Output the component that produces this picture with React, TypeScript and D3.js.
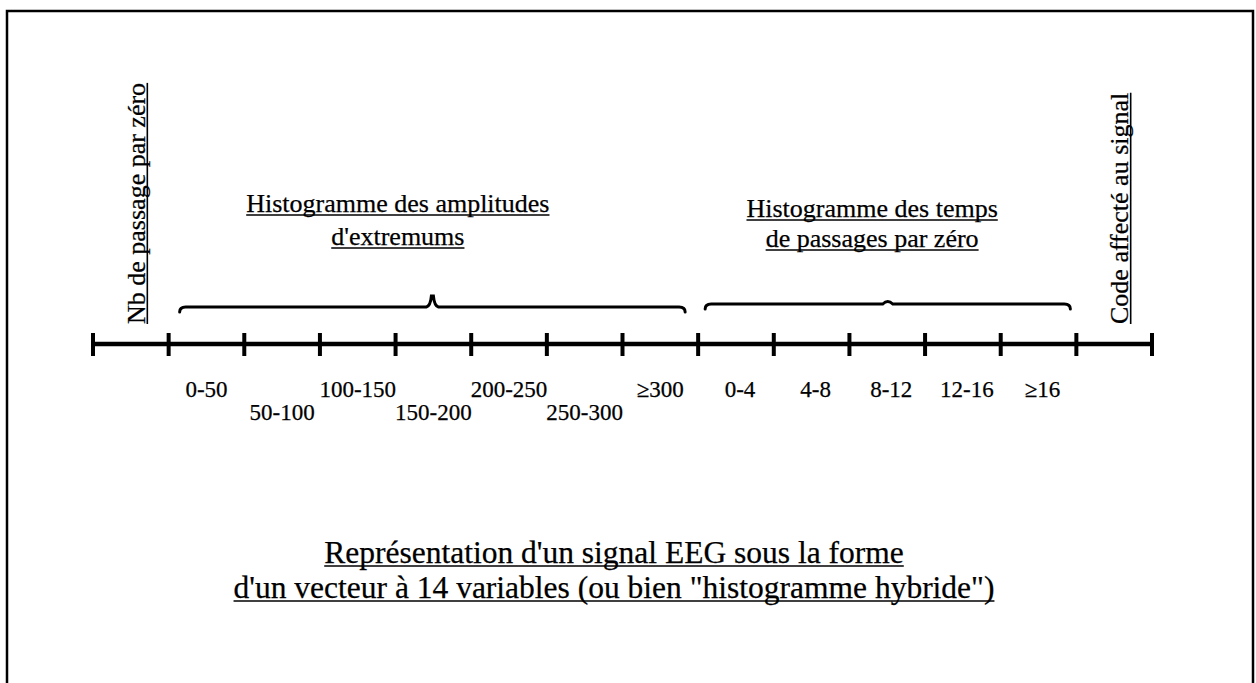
import React, { useRef, useEffect } from 'react'
import * as d3 from 'd3'

// 14 variables: 1 + 7 amplitude bins + 5 time bins + 1 code
const variableCount = 14
const amplitudeBins = ['0-50', '50-100', '100-150', '150-200', '200-250', '250-300', '≥300']
const timeBins = ['0-4', '4-8', '8-12', '12-16', '≥16']
const sideLabels = ['Nb de passage par zéro', 'Code affecté au signal']
const amplitudeTitle = ['Histogramme des amplitudes', "d'extremums"]
const timeTitle = ['Histogramme des temps', 'de passages par zéro']
const captionLines = [
  "Représentation d'un signal EEG sous la forme",
  "d'un vecteur à 14 variables (ou bien \"histogramme hybride\")",
]

const FONT = '"Liberation Serif", "Times New Roman", serif'

export default function App() {
  const svgRef = useRef<SVGSVGElement>(null)

  useEffect(() => {
    const svg = d3.select(svgRef.current)
    svg.selectAll('*').remove()

    const width = 1256, height = 683
    const axisY = 344

    svg.attr('width', width).attr('height', height)

    // page frame
    svg.append('rect')
      .attr('x', 7).attr('y', 11)
      .attr('width', 1246).attr('height', 700)
      .attr('fill', 'none').attr('stroke', '#000').attr('stroke-width', 2.5)

    const x = d3.scaleLinear().domain([0, variableCount]).range([93, 1152])

    // underlined text helper: draws text then a line under it using its bbox
    const underlined = (parent, str, size, anchor, ulGap = 3) => {
      const t = parent.append('text')
        .attr('x', 0).attr('y', 0)
        .attr('text-anchor', anchor)
        .attr('font-family', FONT).attr('font-size', size + 'px')
        .attr('fill', '#000')
        .attr('stroke', '#000').attr('stroke-width', 0.25)
        .text(str)
      const bb = (t.node() as SVGTextElement).getBBox()
      parent.append('line')
        .attr('x1', bb.x).attr('x2', bb.x + bb.width)
        .attr('y1', ulGap).attr('y2', ulGap)
        .attr('stroke', '#000').attr('stroke-width', 1.6)
    }

    // axis line
    svg.append('line')
      .attr('x1', x(0)).attr('x2', x(variableCount))
      .attr('y1', axisY).attr('y2', axisY)
      .attr('stroke', '#000').attr('stroke-width', 4.5)

    // ticks
    svg.selectAll('.tick')
      .data(d3.range(variableCount + 1))
      .join('line')
      .attr('class', 'tick')
      .attr('x1', d => x(d)).attr('x2', d => x(d))
      .attr('y1', axisY - 11).attr('y2', axisY + 12)
      .attr('stroke', '#000').attr('stroke-width', 4)

    // bin labels
    const rowY = [397, 420]
    const labelStyle = sel => sel
      .attr('text-anchor', 'middle')
      .attr('font-family', FONT).attr('font-size', '23px')
      .attr('fill', '#000')
      .attr('stroke', '#000').attr('stroke-width', 0.25)

    svg.selectAll('.amp')
      .data(amplitudeBins)
      .join('text')
      .attr('class', 'amp')
      .attr('x', (d, i) => x(1 + i + 0.5))
      .attr('y', (d, i) => rowY[i % 2])
      .call(labelStyle)
      .text(d => d)

    svg.selectAll('.time')
      .data(timeBins)
      .join('text')
      .attr('class', 'time')
      .attr('x', (d, i) => x(1 + amplitudeBins.length + i + 0.5) + 4)
      .attr('y', rowY[0])
      .call(labelStyle)
      .text(d => d)

    // vertical side labels (first and last variable)
    const sideIdx = [0, variableCount - 1]
    sideLabels.forEach((lab, k) => {
      const g = svg.append('g')
        .attr('transform', `translate(${x(sideIdx[k] + 0.5) + 14},${axisY - 20}) rotate(-90)`)
      underlined(g, lab, 26, 'start', 2.5)
    })

    // braces
    const brace = (x1, x2, y, tip, sharp) => {
      const xm = (x1 + x2) / 2
      const c = 5, r = 6, w = sharp ? 6 : 5
      const p = d3.path()
      p.moveTo(x1, y + c)
      p.quadraticCurveTo(x1, y, x1 + r, y)
      p.lineTo(xm - w, y)
      if (sharp) {
        p.quadraticCurveTo(xm - 2, y - 1, xm - 1, y - tip)
        p.lineTo(xm + 1, y - tip)
        p.quadraticCurveTo(xm + 2, y - 1, xm + w, y)
      } else {
        p.quadraticCurveTo(xm, y - tip * 2, xm + w, y)
      }
      p.lineTo(x2 - r, y)
      p.quadraticCurveTo(x2, y, x2, y + c)
      svg.append('path')
        .attr('d', p.toString())
        .attr('fill', 'none').attr('stroke', '#000')
        .attr('stroke-width', 3).attr('stroke-linecap', 'round')
    }
    const ampStart = 1, ampEnd = 1 + amplitudeBins.length
    const timeEnd = ampEnd + timeBins.length
    brace(x(ampStart) + 11, x(ampEnd) - 13, 307, 11, true)
    brace(x(ampEnd) + 7, x(timeEnd) - 6, 304, 2.5, false)

    // group titles
    const titleBlock = (lines, cx, y0, gap) => {
      lines.forEach((line, i) => {
        const g = svg.append('g').attr('transform', `translate(${cx},${y0 + i * gap})`)
        underlined(g, line, 26, 'middle')
      })
    }
    titleBlock(amplitudeTitle, x(4.03), 212, 33)
    titleBlock(timeTitle, x(10.3), 217, 30)

    // caption
    captionLines.forEach((line, i) => {
      const g = svg.append('g').attr('transform', `translate(${width / 2 - 14},${563 + i * 35})`)
      underlined(g, line, 31.5, 'middle')
    })
  }, [])

  return (
    <svg
      ref={svgRef}
      style={{ position: 'absolute', left: 0, top: 0, display: 'block', background: '#fff' }}
    />
  )
}
